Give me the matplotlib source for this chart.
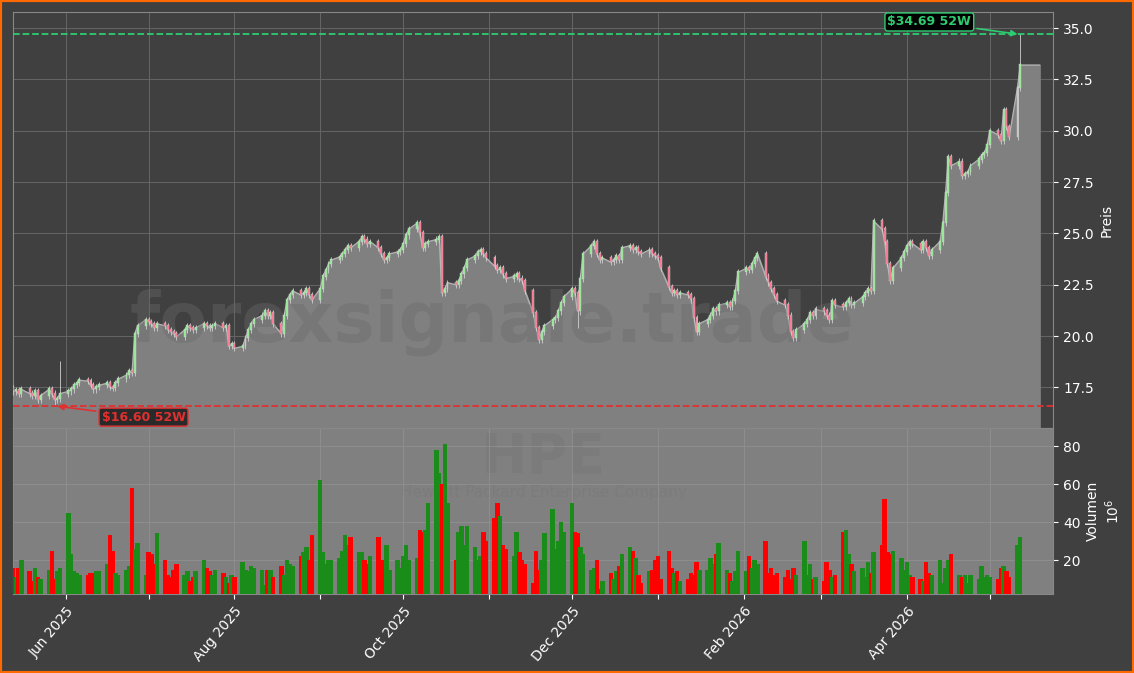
import matplotlib.pyplot as plt
import matplotlib.dates as mdates
import numpy as np
import pandas as pd

dates = pd.bdate_range("2025-05-12", periods=262)

closes = [
    17.46, 17.3, 17.35, 17.2, 17.4, 17.2, 17.1, 17.3, 16.9, 17.1,
    17.4, 17.2, 16.9, 16.95, 17.2, 17.3, 17.4, 17.6, 17.7, 17.85,
    17.8, 17.6, 17.4, 17.5, 17.6, 17.7, 17.5, 17.45, 17.7, 17.9,
    18.1, 18.3, 18.2, 20.1, 20.5, 20.8, 20.7, 20.6, 20.4, 20.6,
    20.5, 20.3, 20.2, 20.1, 19.95, 20.3, 20.5, 20.4, 20.3, 20.4,
    20.6, 20.5, 20.4, 20.5, 20.6, 20.4, 20.5, 19.5, 19.6, 19.4,
    19.5, 19.9, 20.3, 20.6, 20.8, 21.0, 21.2, 21.0, 21.1, 20.6,
    20.1, 21.0, 21.75, 22.0, 22.2, 22.0, 22.1, 22.3, 22.0, 21.75,
    22.3, 22.9, 23.2, 23.5, 23.7, 23.85, 24.0, 24.2, 24.4, 24.3,
    24.6, 24.8, 24.7, 24.5, 24.6, 24.3, 24.0, 23.7, 23.8, 24.0,
    24.1, 24.2, 24.5, 24.9, 25.2, 25.5, 25.0, 24.3, 24.5, 24.6,
    24.7, 24.8, 22.1, 22.3, 22.6, 22.5, 22.7, 23.0, 23.3, 23.7,
    23.9, 24.1, 24.2, 24.0, 23.8, 23.4, 23.2, 23.3, 23.0, 22.8,
    22.9, 23.0, 22.8, 22.7, 22.2, 21.1, 20.4, 19.8, 20.2, 20.5,
    20.8, 20.9, 21.2, 21.6, 21.9, 22.3, 22.1, 21.2, 22.8, 24.0,
    24.4, 24.6, 24.0, 23.7, 23.8, 23.6, 23.7, 23.9, 23.7, 24.3,
    24.4, 24.2, 24.3, 24.1, 24.0, 24.2, 24.0, 23.9, 23.8, 23.3,
    22.4, 22.1, 22.2, 22.0, 22.1, 22.0, 21.8, 20.9, 20.2, 20.6,
    20.8, 21.0, 21.3, 21.2, 21.5, 21.6, 21.4, 21.7, 22.2, 23.1,
    23.3, 23.2, 23.5, 23.8, 24.0, 22.9, 22.6, 22.3, 22.0, 21.7,
    21.5, 21.0, 20.2, 19.9, 20.3, 20.6, 20.8, 21.1, 21.0, 21.3,
    21.2, 21.0, 20.8, 21.7, 21.5, 21.4, 21.6, 21.8, 21.5, 21.6,
    21.9, 22.1, 22.3, 22.2, 25.6, 25.2, 24.6, 23.5, 22.7, 23.3,
    23.8, 24.1, 24.4, 24.6, 24.5, 24.2, 24.6, 24.3, 23.9, 24.2,
    24.6, 25.5, 26.95, 28.7, 28.3, 28.5, 27.8, 27.9, 28.0, 28.3,
    28.6, 28.8, 28.9, 29.3, 30.0, 29.8, 29.5, 31.0, 30.2, 29.7,
    32.1, 33.2,
]

volumes = [
    16, 16, 11, 16, 20, 14, 9, 16, 11, 10,
    15, 25, 10, 14, 16, 45, 23, 14, 13, 12,
    12, 13, 13, 14, 14, 18, 33, 25, 13, 12,
    15, 17, 58, 26, 29, 12, 24, 23, 18, 34,
    20, 12, 11, 15, 18, 12, 14, 9, 11, 14,
    20, 16, 14, 12, 15, 13, 11, 8, 12, 11,
    19, 15, 14, 17, 16, 15, 7, 15, 15, 11,
    17, 12, 20, 18, 17, 22, 24, 27, 20, 33,
    62, 24, 18, 20, 20, 21, 25, 33, 28, 32,
    24, 24, 20, 18, 22, 32, 20, 20, 28, 15,
    20, 16, 22, 28, 20, 21, 36, 35, 36, 50,
    78, 66, 60, 81, 50, 20, 35, 38, 28, 38,
    27, 20, 22, 35, 30, 42, 50, 43, 28, 26,
    22, 35, 24, 20, 18, 8, 25, 15, 20, 34,
    47, 26, 30, 40, 35, 50, 35, 34, 27, 23,
    15, 16, 20, 5, 9, 13, 10, 14, 17, 23,
    27, 25, 21, 12, 8, 14, 15, 20, 22, 10,
    25, 16, 13, 14, 9, 10, 13, 12, 19, 15,
    15, 21, 18, 23, 29, 15, 13, 9, 14, 25,
    14, 22, 16, 20, 18, 30, 13, 16, 12, 13,
    11, 15, 10, 16, 12, 30, 12, 18, 10, 11,
    9, 19, 15, 11, 12, 35, 36, 23, 18, 14,
    16, 11, 19, 13, 24, 28, 52, 24, 23, 25,
    21, 15, 19, 12, 11, 10, 9, 19, 13, 12,
    20, 8, 16, 20, 23, 12, 11, 12, 8, 12,
    10, 17, 11, 12, 11, 10, 16, 17, 14, 11,
    28, 32,
]

high_52w = 34.69
low_52w = 16.60

closes = np.array(closes)
opens = np.concatenate([[17.6], closes[:-1]])
highs = np.maximum(opens, closes) + 0.15
lows = np.minimum(opens, closes) - 0.15
highs[14] = 18.8
highs[261] = high_52w
lows[12] = low_52w
lows[147] = 20.4

BG = "#404040"
fig = plt.figure(figsize=(11.34, 6.73), dpi=100, facecolor=BG)
fig.patches.append(plt.Rectangle((0, 0), 1, 1, transform=fig.transFigure, fill=False,
                                 edgecolor="#ff6a00", linewidth=3))
ax = fig.add_axes([0.0115, 0.364, 0.9175, 0.618])
axv = fig.add_axes([0.0115, 0.117, 0.9175, 0.247], sharex=ax)

x = mdates.date2num(dates)
ext_x = np.append(x, x[-1] + 7)
ext_c = np.append(closes, closes[-1])

ax.set_facecolor(BG)
ax.fill_between(ext_x, ext_c, 15.0, color="#808080", zorder=1)
ax.plot(ext_x, ext_c, color="#b0b0b0", lw=1, zorder=2)

up = closes >= opens
for i in range(len(x)):
    c = "#90ee90" if up[i] else "#ff6b8a"
    ax.vlines(x[i], lows[i], highs[i], color="#d0d0d0", lw=0.6, zorder=3)
    ax.bar(x[i], abs(closes[i] - opens[i]) + 0.05, bottom=min(opens[i], closes[i]),
           width=0.7, color=c, edgecolor="#cccccc", linewidth=0.3, zorder=4)

ax.axhline(high_52w, color="#2ecc71", ls="--", lw=1.3, zorder=5)
ax.axhline(low_52w, color="#e03030", ls="--", lw=1.3, zorder=5)
ax.annotate(f"${high_52w:.2f} 52W", xy=(x[261], high_52w), xytext=(x[261] - 48, 35.3),
            color="#2ecc71", fontsize=9, fontweight="bold", va="center",
            bbox=dict(boxstyle="round,pad=0.2", fc="black", ec="#2ecc71"),
            arrowprops=dict(arrowstyle="-|>", color="#2ecc71", lw=1.2), zorder=6)
ax.annotate(f"${low_52w:.2f} 52W", xy=(x[12], low_52w), xytext=(x[12] + 17, 16.05),
            color="#e03030", fontsize=9, fontweight="bold", va="center",
            bbox=dict(boxstyle="round,pad=0.2", fc="#2a2a2a", ec="#e03030"),
            arrowprops=dict(arrowstyle="-|>", color="#e03030", lw=1.2), zorder=6)

ax.text(0.46, 0.255, "forexsignale.trade", transform=ax.transAxes, ha="center", va="center",
        fontsize=50, fontweight="bold", color="#6a6a6a", alpha=0.4, zorder=2.5)

ax.set_ylim(15.52, 35.78)
ax.set_xlim(mdates.date2num(pd.Timestamp("2025-05-13")), mdates.date2num(pd.Timestamp("2026-05-24")))
ax.yaxis.tick_right()
ax.yaxis.set_label_position("right")
ax.set_ylabel("Preis", color="white")
ax.set_yticks([17.5, 20.0, 22.5, 25.0, 27.5, 30.0, 32.5, 35.0])
ax.grid(True, color="#666666", lw=0.7)
ax.set_axisbelow(True)
ax.tick_params(colors="white", labelbottom=False)

axv.set_facecolor("#808080")
vcol = np.where(up, "#1a8c1a", "#ff0000")
axv.bar(x, volumes, width=1.6, color=vcol, zorder=3)
axv.text(0.51, 0.82, "HPE", transform=axv.transAxes, ha="center", va="center",
         fontsize=40, fontweight="bold", color="#787878", alpha=0.5, zorder=1)
axv.text(0.51, 0.61, "Hewlett Packard Enterprise Company", transform=axv.transAxes,
         ha="center", va="center", fontsize=11, color="#787878", alpha=0.5, zorder=1)
axv.set_ylim(2, 89.5)
axv.yaxis.tick_right()
axv.yaxis.set_label_position("right")
axv.set_ylabel("Volumen\n$10^6$", color="white")
axv.set_yticks([20, 40, 60, 80])
axv.grid(True, color="#909090", lw=0.6)
axv.tick_params(colors="white")

axv.xaxis.set_major_locator(mdates.MonthLocator())
axv.xaxis.set_major_formatter(plt.FuncFormatter(
    lambda v, p: mdates.num2date(v).strftime("%b %Y") if mdates.num2date(v).month % 2 == 0 else ""))
plt.setp(axv.get_xticklabels(), rotation=50, ha="right", rotation_mode="anchor")
for a in (ax, axv):
    for s in a.spines.values():
        s.set_color("#888888")

fig.savefig("out.png", dpi=100, facecolor=BG)
